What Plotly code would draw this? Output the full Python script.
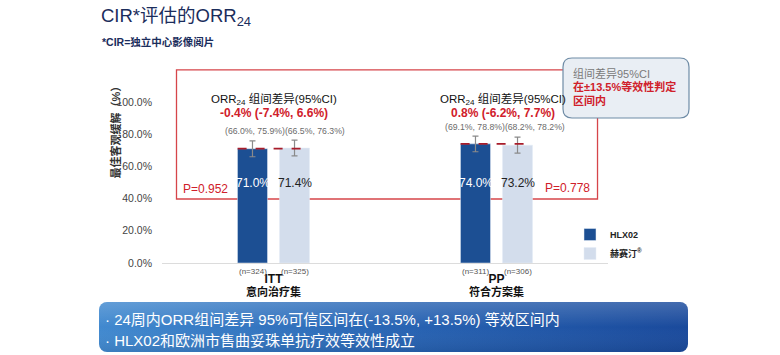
import base64
import plotly.graph_objects as go

# ---------------- data ----------------
categories = [0, 1]
category_codes = ["ITT", "PP"]
category_names_cn = ["意向治疗集", "符合方案集"]
series_names = ["HLX02", "赫赛汀<sup>®</sup>"]
hlx02_orr = [71.0, 74.0]
herceptin_orr = [71.4, 73.2]
hlx02_ci_low = [66.0, 69.1]
hlx02_ci_high = [75.9, 78.8]
herceptin_ci_low = [66.5, 68.2]
herceptin_ci_high = [76.3, 78.2]
hlx02_n = [324, 311]
herceptin_n = [325, 306]
diff_text = ["-0.4% (-7.4%, 6.6%)", "0.8% (-6.2%, 7.7%)"]
p_values = ["0.952", "0.778"]
ytick_vals = [0, 20, 40, 60, 80, 100]
ytick_text = ["0.0%", "20.0%", "40.0%", "60.0%", "80.0%", "100.0%"]

# ---------------- styling ----------------
W, H = 780, 355
L, R, T, B = 162, 608, 60, 263
YMAX = (B - T) / 1.61
FONT = "Liberation Sans, Noto Sans CJK SC, sans-serif"
DARK = "#1c4f93"
LIGHT = "#d3ddec"
RED = "#d0202a"
NAVY = "#1b2d5c"


def px(xp, yp):
    return (xp - L) / (R - L), (B - yp) / (B - T)


def rounded_path(x0, y0, x1, y1, r):
    def P(a, b):
        u, v = px(a, b)
        return f"{u:.5f},{v:.5f}"
    return (f"M{P(x0 + r, y0)} L{P(x1 - r, y0)} Q{P(x1, y0)} {P(x1, y0 + r)} "
            f"L{P(x1, y1 - r)} Q{P(x1, y1)} {P(x1 - r, y1)} L{P(x0 + r, y1)} "
            f"Q{P(x0, y1)} {P(x0, y1 - r)} L{P(x0, y0 + r)} Q{P(x0, y0)} {P(x0 + r, y0)} Z")


fig = go.Figure()
fig.add_trace(go.Bar(
    x=categories, y=hlx02_orr, name=series_names[0], marker_color=DARK,
    error_y=dict(type="data",
                 array=[h - v for h, v in zip(hlx02_ci_high, hlx02_orr)],
                 arrayminus=[v - l for l, v in zip(hlx02_ci_low, hlx02_orr)],
                 color="#8a8a8a", thickness=1.2, width=3),
))
fig.add_trace(go.Bar(
    x=categories, y=herceptin_orr, name=series_names[1], marker_color=LIGHT,
    error_y=dict(type="data",
                 array=[h - v for h, v in zip(herceptin_ci_high, herceptin_orr)],
                 arrayminus=[v - l for l, v in zip(herceptin_ci_low, herceptin_orr)],
                 color="#8a8a8a", thickness=1.2, width=3),
))

shapes = []
ann = []

# red frame
shapes.append(dict(type="rect", xref="x", yref="y", x0=-0.435, x1=1.453,
                   y0=39.75, y1=119.9, line=dict(color="#d6454a", width=1.3),
                   layer="below"))

bar_dx = 21 / 223
head_dx = [0.0, 6 / 223]
ci_dx = [11 / 223, 8 / 223]
ci_y = [82.0, 84.5]
for i, c in enumerate(categories):
    shapes.append(dict(type="line", xref="x", yref="y", x0=c - 0.161, x1=c + 0.161,
                       y0=hlx02_orr[i], y1=hlx02_orr[i],
                       line=dict(color="#a81c2a", width=1.7, dash="dash")))
    ann.append(dict(x=c + head_dx[i], y=101.8, xref="x", yref="y", showarrow=False,
                    text="ORR<sub>24</sub> 组间差异(95%CI)",
                    font=dict(size=11.5, color="#111")))
    ann.append(dict(x=c + head_dx[i], y=93.0, xref="x", yref="y", showarrow=False,
                    text=diff_text[i], font=dict(size=12, color=RED, weight="bold")))
    ann.append(dict(x=c + ci_dx[i], y=ci_y[i], xref="x", yref="y", showarrow=False,
                    text=f"({hlx02_ci_low[i]:.1f}%, {hlx02_ci_high[i]:.1f}%)"
                         f"({herceptin_ci_low[i]:.1f}%, {herceptin_ci_high[i]:.1f}%)",
                    font=dict(size=8.7, color="#6b6b6b")))
    ann.append(dict(x=c - bar_dx, y=49.7, xref="x", yref="y", showarrow=False,
                    text=f"{hlx02_orr[i]:.1f}%", font=dict(size=12, color="white")))
    ann.append(dict(x=c + bar_dx, y=49.7, xref="x", yref="y", showarrow=False,
                    text=f"{herceptin_orr[i]:.1f}%", font=dict(size=12, color="#222")))
    ann.append(dict(x=c - bar_dx, y=0, yshift=-8, xref="x", yref="y", showarrow=False,
                    text=f"(n={hlx02_n[i]})", font=dict(size=8, color="#555")))
    ann.append(dict(x=c + bar_dx, y=0, yshift=-8, xref="x", yref="y", showarrow=False,
                    text=f"(n={herceptin_n[i]})", font=dict(size=8, color="#555")))
    ann.append(dict(x=c, y=0, yshift=-28.5, xref="x", yref="y", showarrow=False,
                    text=category_names_cn[i],
                    font=dict(size=11, color="#111", weight="bold")))

ann.append(dict(x=-0.413, y=46.0, xref="x", yref="y", xanchor="left", showarrow=False,
                text=f"P={p_values[0]}", font=dict(size=12, color=RED)))
ann.append(dict(x=1.426, y=46.6, xref="x", yref="y", xanchor="right", showarrow=False,
                text=f"P={p_values[1]}", font=dict(size=12, color=RED)))

# callout box
shapes.append(dict(type="path", xref="paper", yref="paper",
                   path=rounded_path(563, 58, 689, 118, 9),
                   fillcolor="#e9eef4", line=dict(color="#6f8ca6", width=1.2)))
for yp, txt, col, wt in [(73, "组间差异95%CI", "#7a7a7a", "normal"),
                         (87, "在±13.5%等效性判定", RED, "bold"),
                         (100, "区间内", RED, "bold")]:
    xx, yy = px(571, yp)
    ann.append(dict(x=xx, y=yy, xref="paper", yref="paper", xanchor="left",
                    yanchor="middle", showarrow=False, text=txt,
                    font=dict(size=11, color=col, weight=wt)))

# title & subtitle
xx, yy = px(99, 17)
ann.append(dict(x=xx, y=yy, xref="paper", yref="paper", xanchor="left", yanchor="middle",
                showarrow=False, text="CIR*评估的ORR<sub>24</sub>",
                font=dict(size=18.5, color=NAVY)))
xx, yy = px(100, 42)
ann.append(dict(x=xx, y=yy, xref="paper", yref="paper", xanchor="left", yanchor="middle",
                showarrow=False, text="*CIR=独立中心影像阅片",
                font=dict(size=10.5, color=NAVY, weight="bold")))

# y-axis title
xx, yy = px(106, 130)
ann.append(dict(x=xx, y=yy, xref="paper", yref="paper", textangle=-90, showarrow=False,
                text="最佳客观缓解（%）", font=dict(size=11, color="#333", weight="bold")))

# banner
svg = ('<svg xmlns="http://www.w3.org/2000/svg" width="589" height="50" viewBox="0 0 589 50">'
       '<defs><linearGradient id="g" x1="0" y1="0" x2="1" y2="0">'
       '<stop offset="0" stop-color="#4189cf"/><stop offset="0.55" stop-color="#2661b1"/>'
       '<stop offset="1" stop-color="#1a4a9c"/></linearGradient>'
       '<linearGradient id="h" x1="0" y1="0" x2="0" y2="1">'
       '<stop offset="0" stop-color="#ffffff" stop-opacity="0.18"/>'
       '<stop offset="0.5" stop-color="#ffffff" stop-opacity="0"/>'
       '<stop offset="1" stop-color="#000000" stop-opacity="0.08"/></linearGradient></defs>'
       '<rect x="0" y="0" width="589" height="50" rx="8" ry="8" fill="url(#g)"/>'
       '<rect x="0" y="0" width="589" height="50" rx="8" ry="8" fill="url(#h)"/></svg>')
src = "data:image/svg+xml;base64," + base64.b64encode(svg.encode()).decode()
bx, by = px(99, 302)
images = [dict(source=src, xref="paper", yref="paper", x=bx, y=by,
               sizex=(688 - 99) / (R - L), sizey=(352 - 302) / (B - T),
               sizing="stretch", xanchor="left", yanchor="top", layer="below")]
for yp, txt in [(319, "· 24周内ORR组间差异 95%可信区间在(-13.5%, +13.5%) 等效区间内"),
                (340, "· HLX02和欧洲市售曲妥珠单抗疗效等效性成立")]:
    xx, yy = px(103, yp)
    ann.append(dict(x=xx, y=yy, xref="paper", yref="paper", xanchor="left",
                    yanchor="middle", showarrow=False, text=txt,
                    font=dict(size=15, color="white")))

lx, ly = px(570, 244)
fig.update_layout(
    width=W, height=H,
    margin=dict(l=L, r=W - R, t=T, b=H - B, pad=0),
    paper_bgcolor="white", plot_bgcolor="white",
    font=dict(family=FONT, color="#222"),
    barmode="group", bargap=0.623, bargroupgap=0.286,
    showlegend=True,
    legend=dict(x=lx, y=ly, xanchor="left", yanchor="middle", bgcolor="rgba(0,0,0,0)",
                font=dict(size=9, color="#222", weight="bold"), tracegroupgap=0,
                itemwidth=30),
    xaxis=dict(range=[-0.5, 1.5], tickvals=categories, ticktext=category_codes,
               showgrid=False, zeroline=False, showline=True, linecolor="#dcdcdc",
               linewidth=1, ticks="", ticklabelstandoff=5,
               tickfont=dict(size=12, color="#111", weight="bold")),
    yaxis=dict(range=[0, YMAX], tickvals=ytick_vals, ticktext=ytick_text,
               showgrid=False, zeroline=False, showline=False, ticks="",
               ticklabelstandoff=9, tickfont=dict(size=10.5, color="#444")),
    shapes=shapes, annotations=ann, images=images,
)

fig.write_html("out.html", config={"displayModeBar": False},
               post_script="document.body.style.margin='0';"
                           "document.body.style.overflow='hidden';")
